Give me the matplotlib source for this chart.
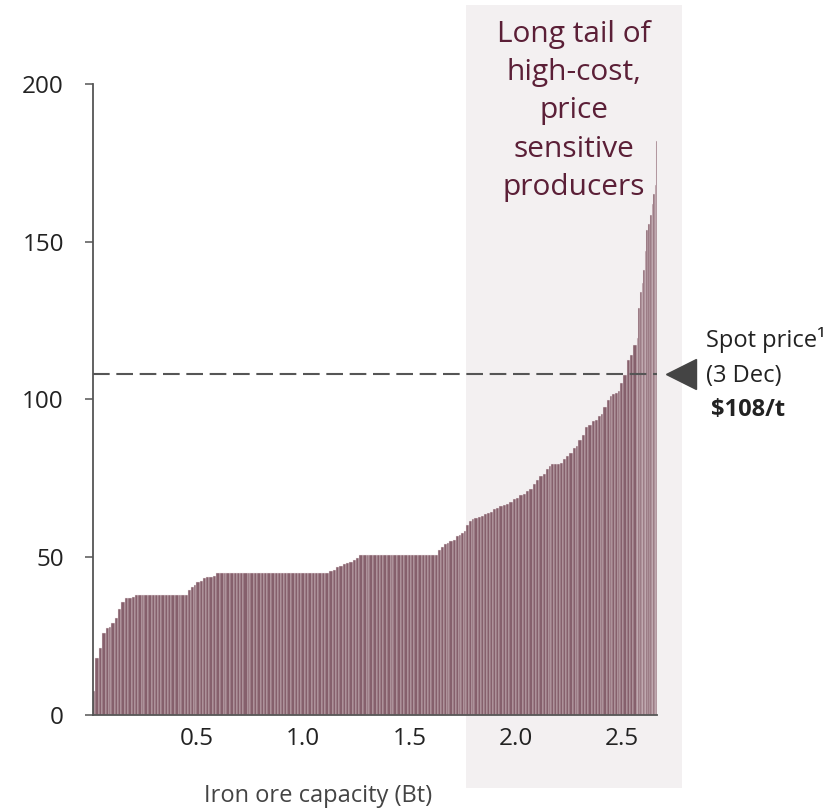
import numpy as np
import matplotlib
matplotlib.use("Agg")
import matplotlib.pyplot as plt
from matplotlib.patches import Rectangle

# ---------------- data ----------------
# capacity of each producer (Mt) in ascending cost order
capacity_mt = [
    21, 20, 16, 19, 12, 11, 16, 16, 15, 16, 16, 16, 15,
    14, 18, 12, 16, 20, 14, 16, 12, 18, 16, 14, 20, 16, 12, 18, 14,
    16, 12, 11, 16, 16, 16, 14, 18, 14,
    16, 20, 12, 16, 18, 16, 14, 16, 20, 12, 16, 16, 18, 14, 16, 16, 20,
    12, 16, 16, 14, 18, 16, 16, 12, 20, 16, 16, 18, 14, 16, 16, 20,
    16, 16, 15, 16, 16, 15, 16, 16, 15,
    16, 18, 12, 20, 16, 16, 14, 18, 16, 12, 20, 16, 16, 18, 14, 16, 16,
    20, 12, 16, 16, 18, 15,
    14, 14, 12, 12, 16, 15, 12, 12, 12, 11, 13, 13, 13, 16, 16, 15,
    13, 13, 13, 16, 16, 15, 16, 16, 15, 16, 15, 16, 16, 16, 15, 16, 15,
    16, 16, 12, 11, 14, 14, 14, 13, 16, 15, 19, 12, 11, 16, 16, 15, 16,
    16, 15, 12, 12, 16, 15, 12, 12, 12, 11, 16, 16, 15, 16, 16,
    8, 8, 8, 7, 7, 6, 11, 8, 8, 8, 7, 6, 5,
]
# cash cost of each producer (US$/t)
cost_usd_t = [
    7.6, 17.8, 21.0, 25.7, 27.4, 27.8, 29.0, 30.5, 33.6, 35.6, 36.9, 37.1, 37.3,
    37.8, 37.8, 37.8, 37.8, 37.8, 37.8, 37.8, 37.8, 37.8, 37.8, 37.8, 37.8, 37.8, 37.8, 37.8, 37.8,
    39.4, 40.6, 41.2, 42.0, 42.4, 43.3, 43.5, 43.6, 43.8,
    44.8, 44.8, 44.8, 44.8, 44.8, 44.8, 44.8, 44.8, 44.8, 44.8, 44.8, 44.8, 44.8, 44.8, 44.8, 44.8, 44.8,
    44.8, 44.8, 44.8, 44.8, 44.8, 44.8, 44.8, 44.8, 44.8, 44.8, 44.8, 44.8, 44.8, 44.8, 44.8, 44.8,
    45.5, 45.9, 46.8, 47.2, 47.8, 48.0, 48.3, 48.9, 49.5,
    50.7, 50.7, 50.7, 50.7, 50.7, 50.7, 50.7, 50.7, 50.7, 50.7, 50.7, 50.7, 50.7, 50.7, 50.7, 50.7, 50.7,
    50.7, 50.7, 50.7, 50.7, 50.7, 50.7,
    52.3, 53.0, 54.0, 54.5, 55.0, 55.4, 56.5, 57.0, 57.7, 58.2, 60.0, 61.4, 62.0, 62.4, 62.6, 62.9,
    63.6, 63.9, 64.3, 65.2, 65.6, 66.0, 66.6, 66.9, 67.3, 68.2, 68.8, 69.6, 70.1, 70.8, 71.5, 73.2, 74.4,
    75.5, 76.4, 78.0, 78.8, 79.4, 79.6, 79.6, 79.9, 81.0, 81.9, 83.0, 84.5, 85.2, 87.0, 88.6, 91.2, 91.7,
    93.0, 93.5, 94.6, 95.2, 97.6, 99.7, 100.9, 101.6, 102.1, 102.6, 105.0, 107.6, 112.4, 114.0, 117.1,
    119.5, 129.0, 134.0, 137.0, 141.0, 147.0, 153.6, 155.5, 158.5, 162.0, 165.0, 168.0, 182.0,
]
spot_price = 108
y_ticks = [0, 50, 100, 150, 200]
x_ticks = [0.5, 1.0, 1.5, 2.0, 2.5]
x_ticklabels = ["0.5", "1.0", "1.5", "2.0", "2.5"]
title_lines = ["Long tail of", "high-cost,", "price", "sensitive", "producers"]
spot_lines = ["Spot price\u00b9", "(3 Dec)", "$108/t"]
x_label = "Iron ore capacity (Bt)"

# ---------------- style ----------------
plt.rcParams["font.family"] = ["Open Sans", "DejaVu Sans"]
W, H = 839, 810
fig = plt.figure(figsize=(W / 100, H / 100), dpi=100)
fig.patch.set_facecolor("white")

def fx(px):
    return px / W

def fy(py):
    return (H - py) / H

# shaded highlight band
fig.patches.append(Rectangle((fx(466), fy(788)), fx(682) - fx(466), fy(5) - fy(788),
                             transform=fig.transFigure, facecolor="#f3f0f1",
                             edgecolor="none", zorder=-5))

ax = fig.add_axes([fx(93), fy(714.5), fx(657.3) - fx(93), fy(84) - fy(714.5)])
ax.set_facecolor("none")

cap_bt = np.array(capacity_mt) / 1000.0
lefts = np.concatenate([[0.0], np.cumsum(cap_bt)[:-1]])
ax.bar(lefts, cost_usd_t, width=cap_bt, align="edge", color="#86606c",
       edgecolor="#f1e8eb", linewidth=0.3, zorder=2)

ax.set_xlim(0.0127, 2.665)
ax.set_ylim(0, 200)

ax.axhline(spot_price, color="#555555", lw=1.5, linestyle=(0, (8, 3.2)), zorder=3)
ax.plot([2.776], [spot_price], marker="<", markersize=21, color="#444444",
        clip_on=False, zorder=4)

for s in ["top", "right"]:
    ax.spines[s].set_visible(False)
for s in ["left", "bottom"]:
    ax.spines[s].set_color("#555555")
    ax.spines[s].set_linewidth(1.3)

ax.set_yticks(y_ticks)
ax.set_yticklabels([str(v) for v in y_ticks])
ax.set_xticks(x_ticks)
ax.set_xticklabels(x_ticklabels)
ax.tick_params(axis="y", length=6, width=1.1, color="#555555", pad=15,
               labelsize=17.5, labelcolor="#222222")
ax.tick_params(axis="x", length=0, pad=9, labelsize=17.5, labelcolor="#222222")

# x label (placed under the left part)
fig.text(fx(318), fy(802), x_label, ha="center", va="baseline",
         fontsize=17, color="#444444")

# title text in the band
for i, line in enumerate(title_lines):
    fig.text(fx(574), fy(41.7 + 38.3 * i), line, ha="center", va="baseline",
             fontsize=21.5, color="#5b1f37")

# spot price annotation
spot_base = [347, 382, 416]
spot_x = [706, 706, 711]
for i, line in enumerate(spot_lines):
    fig.text(fx(spot_x[i]), fy(spot_base[i]), line, ha="left", va="baseline",
             fontsize=17, color="#222222",
             fontweight="bold" if i == 2 else "normal")

fig.savefig("out.png", dpi=100, facecolor="white")
